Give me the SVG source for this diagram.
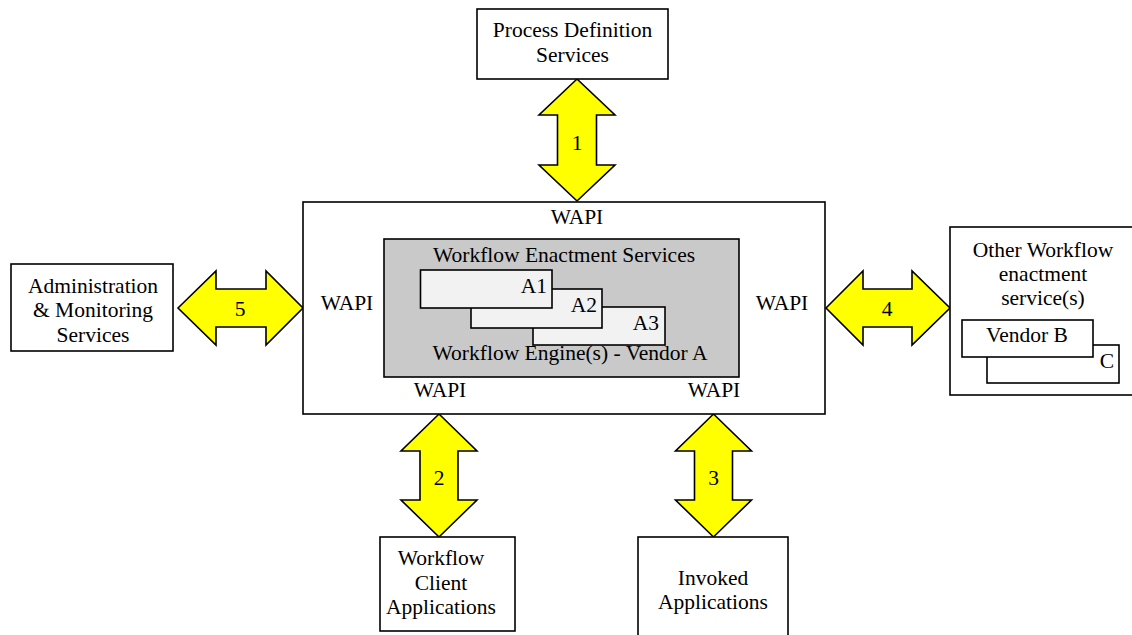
<svg xmlns="http://www.w3.org/2000/svg" width="1132" height="635" viewBox="0 0 1132 635">
<style>
.box{fill:#fff;stroke:#000;stroke-width:1.6}
.gray{fill:#c9c9c9;stroke:#000;stroke-width:1.6}
.sub{fill:#f2f2f2;stroke:#000;stroke-width:1.6}
.arr{fill:#ffff00;stroke:#000;stroke-width:1.6;stroke-linejoin:miter}
text{font-family:"Liberation Serif","Times New Roman",serif;font-size:21.5px;fill:#000}
.c{text-anchor:middle}
.r{text-anchor:end}
</style>
<rect width="1132" height="635" fill="#fff"/>
<g id="connectors">
<path class="arr" d="M577,79 L615,115 L596.5,115 L596.5,165 L615,165 L577,201 L539,165 L557.5,165 L557.5,115 L539,115 Z"/>
<text class="c" x="577" y="150">1</text>
<path class="arr" d="M439,414 L477,451 L458,451 L458,500 L477,500 L439,537 L401,500 L420,500 L420,451 L401,451 Z"/>
<text class="c" x="439" y="485">2</text>
<path class="arr" d="M713.5,414 L751.5,451 L732.5,451 L732.5,500 L751.5,500 L713.5,537 L675.5,500 L694.5,500 L694.5,451 L675.5,451 Z"/>
<text class="c" x="713.5" y="485">3</text>
<path class="arr" d="M826,308 L863,271 L863,289 L912,289 L912,271 L950,308 L912,345 L912,327 L863,327 L863,345 Z"/>
<text class="c" x="887" y="316">4</text>
<path class="arr" d="M178,308 L216,271 L216,289 L266,289 L266,271 L303,308 L266,345 L266,327 L216,327 L216,345 Z"/>
<text class="c" x="240" y="316">5</text>
</g>
<g id="process-definition">
<rect class="box" x="477" y="9" width="191" height="70"/>
<text class="c" x="572.5" y="37">Process Definition</text>
<text class="c" x="572.5" y="62">Services</text>
</g>
<g id="admin">
<rect class="box" x="11" y="264" width="162" height="87"/>
<text class="c" x="93" y="293">Administration</text>
<text class="c" x="93" y="317">&amp; Monitoring</text>
<text class="c" x="93" y="342">Services</text>
</g>
<g id="main">
<rect class="box" x="303" y="202" width="522" height="212"/>
<text class="c" x="577" y="224">WAPI</text>
<text class="c" x="347" y="310">WAPI</text>
<text class="c" x="782" y="310">WAPI</text>
<text class="c" x="440" y="397">WAPI</text>
<text class="c" x="714" y="397">WAPI</text>
</g>
<g id="enactment">
<rect class="gray" x="384" y="239" width="355" height="138"/>
<text class="c" x="564" y="262">Workflow Enactment Services</text>
<text class="c" x="570" y="360">Workflow Engine(s) - Vendor A</text>
</g>
<g id="a3">
<rect class="sub" x="533" y="307" width="132" height="38"/>
<text class="r" x="659" y="330">A3</text>
</g>
<g id="a2">
<rect class="sub" x="471" y="289" width="131" height="39"/>
<text class="r" x="597" y="312">A2</text>
</g>
<g id="a1">
<rect class="sub" x="420.5" y="270" width="131.5" height="38"/>
<text class="r" x="547" y="293">A1</text>
</g>
<g id="other">
<rect class="box" x="950" y="227" width="190" height="168"/>
<text class="c" x="1043" y="257">Other Workflow</text>
<text class="c" x="1043" y="281">enactment</text>
<text class="c" x="1043" y="305">service(s)</text>
</g>
<g id="vendor-c">
<rect class="box" x="987" y="345" width="132" height="38"/>
<text class="r" x="1114" y="368">C</text>
</g>
<g id="vendor-b">
<rect class="box" x="962" y="320" width="131" height="37"/>
<text class="c" x="1027" y="342">Vendor B</text>
</g>
<g id="client">
<rect class="box" x="380" y="537" width="135" height="94"/>
<text class="c" x="441" y="565">Workflow</text>
<text class="c" x="441" y="590">Client</text>
<text class="c" x="441" y="614">Applications</text>
</g>
<g id="invoked">
<rect class="box" x="638" y="537" width="150" height="110"/>
<text class="c" x="713" y="585">Invoked</text>
<text class="c" x="713" y="609">Applications</text>
</g>
</svg>
